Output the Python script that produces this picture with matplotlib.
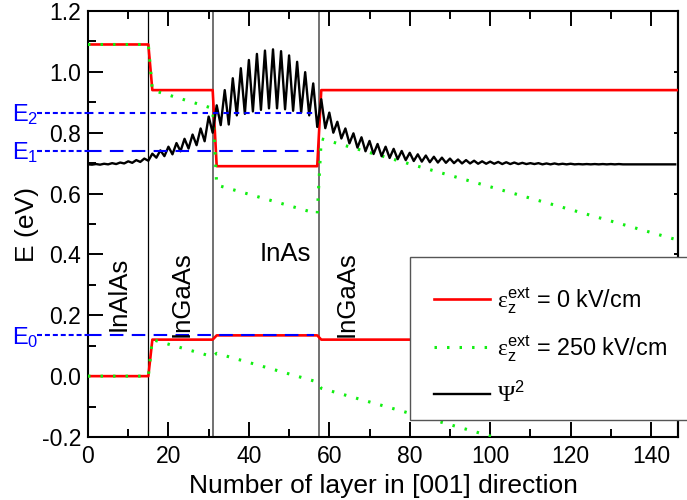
import matplotlib
matplotlib.use('Agg')
import matplotlib.pyplot as plt
import matplotlib.transforms as mtransforms
from matplotlib.patches import Rectangle
from matplotlib.ticker import MultipleLocator

plt.rcParams['font.family'] = ['Liberation Sans', 'DejaVu Sans']
plt.rcParams['mathtext.fontset'] = 'custom'
plt.rcParams['mathtext.rm'] = 'Liberation Sans'
plt.rcParams['mathtext.it'] = 'Liberation Sans:italic'
plt.rcParams['mathtext.bf'] = 'Liberation Sans:bold'
plt.rcParams['mathtext.cal'] = 'Liberation Serif'
plt.rcParams['mathtext.default'] = 'regular'
plt.rcParams['axes.unicode_minus'] = False

# ---------------- data ----------------
# band edges, zero field
band_x = [0, 15, 16, 31, 32, 57, 58, 147]
cb_0 = [1.09, 1.09, 0.94, 0.94, 0.69, 0.69, 0.94, 0.94]
vb_0 = [0.0, 0.0, 0.12, 0.12, 0.134, 0.134, 0.12, 0.12]
# band edges, 250 kV/cm
band_x_f = [0, 15, 16, 31, 32, 57, 58, 146.7]
cb_250 = [1.09, 1.09, 0.94, 0.88, 0.628, 0.534, 0.78, 0.447]
vb_250 = [0.0, 0.0, 0.12, 0.064, 0.075, -0.019, -0.040, -0.371]

# |psi|^2 (shifted), one value per layer 0..146
psi2 = [
    0.696, 0.695, 0.697, 0.695, 0.698, 0.696, 0.700, 0.697, 0.702, 0.699,
    0.706, 0.701, 0.710, 0.704, 0.715, 0.708, 0.731, 0.718, 0.742, 0.723,
    0.754, 0.729, 0.766, 0.739, 0.780, 0.748, 0.794, 0.759, 0.814, 0.772,
    0.853, 0.800, 0.890, 0.825, 0.940, 0.827, 0.979, 0.857, 1.012, 0.862,
    1.039, 0.870, 1.059, 0.875, 1.070, 0.880, 1.074, 0.880, 1.068, 0.877,
    1.054, 0.872, 1.033, 0.866, 0.999, 0.857, 0.962, 0.819, 0.910, 0.815,
    0.866, 0.800, 0.836, 0.781, 0.814, 0.765, 0.798, 0.751, 0.785, 0.739,
    0.773, 0.730, 0.763, 0.723, 0.754, 0.717, 0.747, 0.713, 0.740, 0.710,
    0.734, 0.707, 0.729, 0.705, 0.725, 0.703, 0.721, 0.702, 0.718, 0.701,
    0.715, 0.700, 0.712, 0.699, 0.710, 0.699, 0.708, 0.698, 0.706, 0.698,
    0.705, 0.698, 0.704, 0.697, 0.703, 0.697, 0.702, 0.697, 0.701, 0.697,
    0.700, 0.697, 0.700, 0.696, 0.699, 0.696, 0.699, 0.696, 0.698, 0.696,
    0.698, 0.696, 0.697, 0.696, 0.697, 0.696, 0.697, 0.696, 0.697, 0.696,
    0.697, 0.696, 0.697, 0.696, 0.696, 0.696, 0.696, 0.696, 0.696, 0.696,
    0.696, 0.696, 0.696, 0.696, 0.696, 0.696, 0.696,
]
layers = list(range(len(psi2)))

# eigen-energies
level_names = ['E$_2$', 'E$_1$', 'E$_0$']
level_E = [0.866, 0.741, 0.134]
level_end = 56.3

# interfaces and layer labels
interfaces = [14.8, 31.0, 57.4]
region_names = ['InAlAs', 'InGaAs', 'InAs', 'InGaAs']
region_x = [7.5, 23.3, 49.0, 64.4]
region_y = [0.27, 0.27, 0.40, 0.27]
region_rot = [90, 90, 0, 90]

legend_labels = [r'$\mathcal{ε}_\mathrm{z}^\mathrm{ext}$ = 0 kV/cm',
                 r'$\mathcal{ε}_\mathrm{z}^\mathrm{ext}$ = 250 kV/cm',
                 r'$\mathcal{Ψ}^\mathrm{2}$']

# ---------------- figure ----------------
fig = plt.figure(figsize=(6.87, 5.00), dpi=100)
ax = fig.add_axes([88/687, 1-437/500, (678-88)/687, (437-11)/500])

ax.axvline(interfaces[0], color='black', lw=0.9, zorder=1)
ax.axvline(interfaces[1], color='#666666', lw=1.3, zorder=1)
ax.axvline(interfaces[2], color='#666666', lw=1.3, zorder=1)

dot_style = (0, (0.8, 3.3))
l_red, = ax.plot(band_x, cb_0, color='#ff0000', lw=1.9, zorder=3, label=legend_labels[0])
ax.plot(band_x, vb_0, color='#ff0000', lw=1.9, zorder=3)
l_grn, = ax.plot(band_x_f, cb_250, color='#11ee11', lw=2.2, ls=dot_style,
                 zorder=4, label=legend_labels[1])
ax.plot(band_x_f, vb_250, color='#11ee11', lw=2.2, ls=dot_style, zorder=4)
l_psi, = ax.plot(layers, psi2, color='black', lw=1.7, zorder=5, label=legend_labels[2])

inside_styles = [(0, (2.6, 2.4)), (0, (6.5, 4.0)), (0, (6.5, 4.0))]
trans = mtransforms.blended_transform_factory(ax.transAxes, ax.transData)
for name, e, st in zip(level_names, level_E, inside_styles):
    ax.plot([0, level_end], [e, e], color='#0000ff', lw=1.5, ls=st, zorder=6)
    ax.plot([-0.0864, 0.0], [e, e], color='#0000ff', lw=1.5, ls=(0, (2.4, 1.4)),
            transform=trans, clip_on=False, zorder=6)
    ax.annotate(name, xy=(-0.129, e), xycoords=trans, xytext=(0, -6.2),
                textcoords='offset points', ha='left', va='baseline',
                color='#0000ff', fontsize=17, annotation_clip=False)

for name, x, y, r in zip(region_names, region_x, region_y, region_rot):
    ax.text(x, y, name, rotation=r, ha='center', va='center', fontsize=18.5, zorder=7)

ax.set_xlim(0, 146.7)
ax.set_ylim(-0.2, 1.2)
ax.xaxis.set_major_locator(MultipleLocator(20))
ax.xaxis.set_minor_locator(MultipleLocator(10))
ax.yaxis.set_major_locator(MultipleLocator(0.2))
ax.yaxis.set_minor_locator(MultipleLocator(0.1))
ax.yaxis.set_major_formatter(matplotlib.ticker.FormatStrFormatter('%.1f'))

ax.tick_params(axis='both', which='major', direction='in', length=10.5, width=1.4,
               labelsize=16.5, top=True, right=False, pad=5)
ax.tick_params(axis='both', which='minor', direction='in', length=5.5, width=1.4,
               top=True, right=False)
ax.tick_params(axis='x', which='major', pad=6)
for s in ax.spines.values():
    s.set_linewidth(1.5)

# short right-hand ticks
sec = ax.secondary_yaxis(1.0)
sec.yaxis.set_major_locator(MultipleLocator(0.2))
sec.yaxis.set_minor_locator(MultipleLocator(0.1))
sec.tick_params(which='major', direction='in', length=3, width=1.4, labelright=False)
sec.tick_params(which='minor', direction='out', length=0, width=1.4)
sec.spines['right'].set_linewidth(1.5)

ax.set_xlabel('Number of layer in [001] direction', fontsize=19, labelpad=4)
ax.set_ylabel('E (eV)', fontsize=19, labelpad=2)

# legend frame (runs past the right edge of the figure, as in the original)
frame = Rectangle(((410-88)/590, (437-420)/426), 0.6, (420-257)/426,
                  transform=ax.transAxes, facecolor='white', edgecolor='#555555',
                  lw=1.0, clip_on=False, zorder=9)
ax.add_patch(frame)
leg = ax.legend(handles=[l_red, l_grn, l_psi], loc='upper left',
                bbox_to_anchor=(0.551, 0.406), borderaxespad=0, fontsize=16.8,
                handlelength=2.4, handletextpad=0.3, borderpad=0.9,
                labelspacing=0.75, frameon=False)
leg.set_zorder(10)

fig.savefig('out.png', dpi=100)
